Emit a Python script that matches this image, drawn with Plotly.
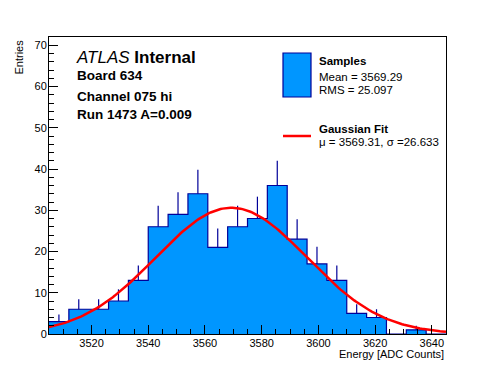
import numpy as np
import plotly.graph_objects as go

# ---- data ----
bin_low_edges = [3505, 3512, 3519, 3526, 3533, 3540, 3547, 3554, 3561, 3568,
                 3575, 3582, 3589, 3596, 3603, 3610, 3617, 3624, 3631, 3638]
bin_width = 7
counts = [3, 6, 6, 8, 13, 26, 29, 34, 21, 26, 28, 36, 23, 17, 13, 5, 4, 0, 1, 0]
fit_mu = 3569.31
fit_sigma = 26.633
fit_amplitude = 30.6
x_range = [3505, 3645]
y_range = [0, 72]

FILL = "#0096ff"
EDGE = "#000099"
FONT = "Liberation Sans, Arial, Helvetica, sans-serif"

# page has an 8px body margin; figure sized to fit the window exactly
OFF = 8
W, H = 496 - OFF, 372 - OFF
# plot area in page pixel coordinates
L, R, T, B = 49, 446, 37, 334


def px(x):
    return (x - L) / (R - L)


def py(y):
    return (B - y) / (B - T)


edges = bin_low_edges + [bin_low_edges[-1] + bin_width]
centers = [e + bin_width / 2 for e in bin_low_edges]

fig = go.Figure()

# histogram outline + fill
fig.add_trace(go.Scatter(
    x=edges, y=counts + [counts[-1]], mode="lines", line_shape="hv",
    fill="tozeroy", fillcolor=FILL, line=dict(color=EDGE, width=1.2),
    hoverinfo="skip", showlegend=False))

# upper error bars
nz = [i for i, c in enumerate(counts) if c > 0]
fig.add_trace(go.Scatter(
    x=[centers[i] for i in nz], y=[counts[i] for i in nz], mode="markers",
    marker=dict(size=1, color="rgba(0,0,0,0)"),
    error_y=dict(type="data", symmetric=False,
                 array=[np.sqrt(counts[i]) for i in nz],
                 arrayminus=[0] * len(nz), width=0, thickness=1.2, color=EDGE),
    hoverinfo="skip", showlegend=False))

# gaussian fit curve
xf = np.linspace(x_range[0], x_range[1], 200)
yf = fit_amplitude * np.exp(-0.5 * ((xf - fit_mu) / fit_sigma) ** 2)
fig.add_trace(go.Scatter(x=xf, y=yf, mode="lines",
                         line=dict(color="#ff0000", width=2.5),
                         hoverinfo="skip", showlegend=False))

axis_common = dict(showgrid=False, zeroline=False, showline=True,
                   linecolor="black", linewidth=1, mirror=True,
                   ticks="inside", ticklen=9, tickcolor="black", tickwidth=1,
                   tickfont=dict(family=FONT, size=11, color="black"))

fig.update_xaxes(range=x_range, tick0=3500, dtick=20, ticklabelstandoff=-1,
                 minor=dict(dtick=5, ticks="inside", ticklen=5,
                            tickcolor="black", showgrid=False),
                 **axis_common)
fig.update_yaxes(range=y_range, tick0=0, dtick=10, ticklabelstandoff=-1,
                 minor=dict(dtick=2, ticks="inside", ticklen=5,
                            tickcolor="black", showgrid=False),
                 **axis_common)

ann = []


def text(x, y, s, size=11, xanchor="left", bold=False, **kw):
    if bold:
        s = "<b>" + s + "</b>"
    ann.append(dict(x=px(x), y=py(y), xref="paper", yref="paper", text=s,
                    showarrow=False, xanchor=xanchor, yanchor="middle",
                    font=dict(family=FONT, size=size, color="black"), **kw))


# axis titles
text(446, 354, "Energy [ADC Counts]", size=11, xanchor="right")
ann.append(dict(x=px(18), y=py(38), xref="paper", yref="paper", text="Entries",
                showarrow=False, textangle=-90, xanchor="center", yanchor="top",
                font=dict(family=FONT, size=11, color="black")))

# ATLAS labels
text(74, 57, "<i>ATLAS</i> <b>Internal</b>", size=17)
text(75, 76, "Board 634", size=13.5, bold=True)
text(75, 96, "Channel 075 hi", size=13.5, bold=True)
text(75, 114, "Run 1473 A=0.009", size=13.5, bold=True)

# legend
text(317, 61, "Samples", size=11.5, bold=True)
text(317, 77, "Mean = 3569.29", size=11.5)
text(317, 90, "RMS = 25.097", size=11.5)
text(317, 129, "Gaussian Fit", size=11.5, bold=True)
text(317, 142, "\u03bc = 3569.31, \u03c3 =26.633", size=11.5)

shapes = [
    dict(type="rect", xref="paper", yref="paper", x0=px(283), x1=px(311),
         y0=py(97), y1=py(53), fillcolor=FILL, line=dict(color=EDGE, width=1.2)),
    dict(type="line", xref="paper", yref="paper", x0=px(283), x1=px(311),
         y0=py(136), y1=py(136), line=dict(color="#ff0000", width=2.5)),
]

fig.update_layout(width=W, height=H,
                  margin=dict(l=L - OFF, r=W - (R - OFF), t=T - OFF,
                              b=H - (B - OFF), pad=0),
                  plot_bgcolor="white", paper_bgcolor="white",
                  annotations=ann, shapes=shapes, showlegend=False)

fig.write_html("out.html")
